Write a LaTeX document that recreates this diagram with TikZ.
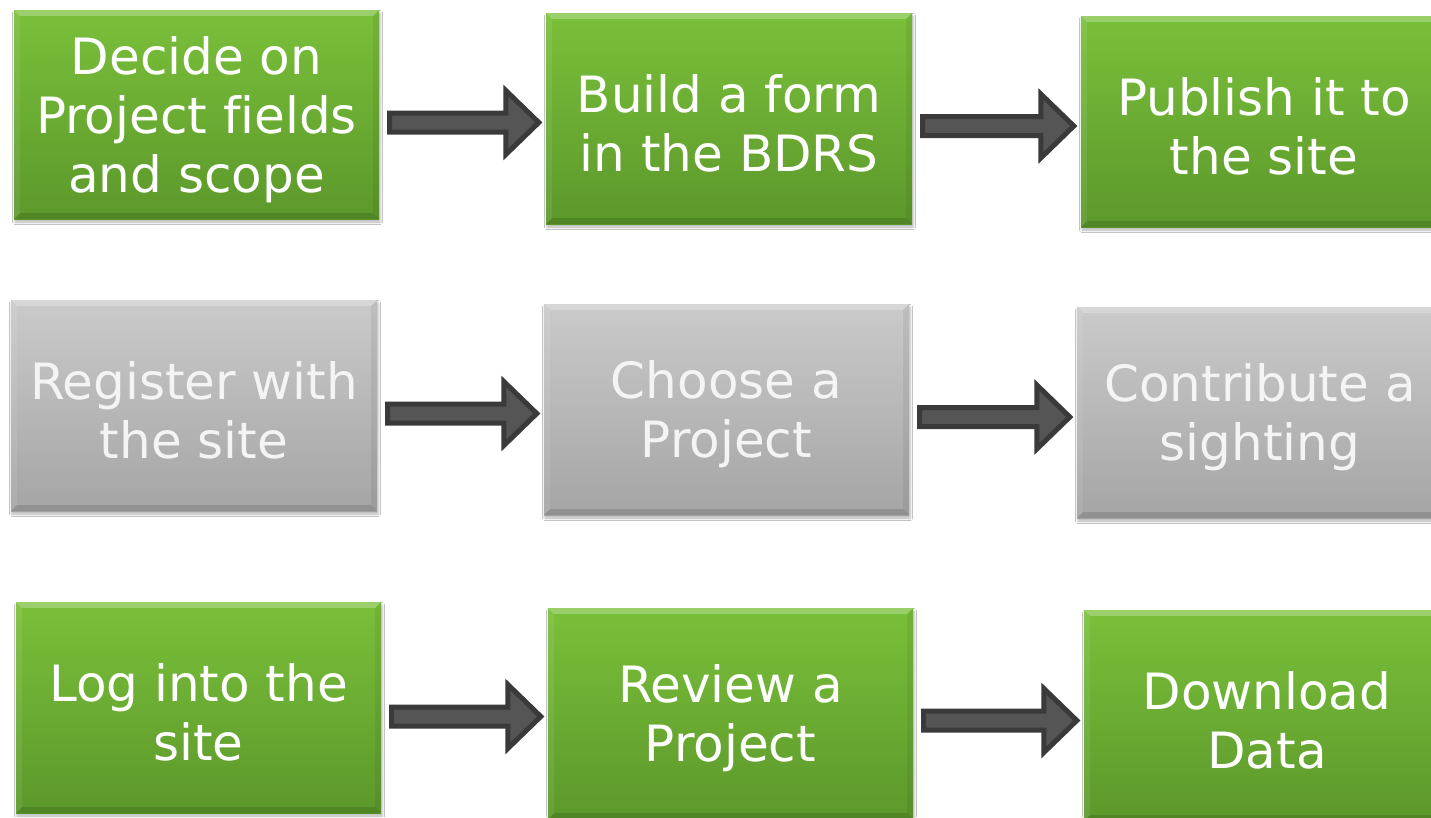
\documentclass[tikz,border=0pt]{standalone}
\usepackage{fontspec}
\setmainfont{DejaVu Sans}[Ligatures=NoCommon]
\usetikzlibrary{calc,shadows.blur}
\definecolor{gtop}{HTML}{7AC03A}
\definecolor{gbot}{HTML}{5C982B}
\definecolor{ytop}{HTML}{CACACA}
\definecolor{ybot}{HTML}{A5A5A5}
\definecolor{ytext}{HTML}{F4F4F4}
\definecolor{arrowedge}{HTML}{3A3A3A}
\definecolor{arrowfill}{HTML}{555555}
\tikzset{
  box/.style={minimum width=365pt, minimum height=210pt, inner sep=0pt,
    shading=axis,
    blur shadow={shadow xshift=1pt, shadow yshift=-3pt, shadow blur radius=2.5pt, shadow opacity=30}},
  boxtext/.style={align=center, text=white, font=\fontsize{50}{59}\selectfont, yshift=-5pt},
  greenbox/.style={box, top color=gtop, bottom color=gbot},
  graybox/.style={box, top color=ytop, bottom color=ybot},
  graytext/.style={boxtext, text=ytext},
  flowarrow/.style={draw=arrowedge, fill=arrowfill, line width=5pt, line join=miter},
  bevellight/.style={fill=white, fill opacity=0.25},
  bevelside/.style={fill=white, fill opacity=0.08},
  beveldark/.style={fill=black, fill opacity=0.12},
  bevelright/.style={fill=black, fill opacity=0.06},
}
\newcommand\bevelon[1]{%
  \fill[bevellight] (#1.north west) -- (#1.north east) -- ([shift={(-6pt,-6pt)}]#1.north east) -- ([shift={(6pt,-6pt)}]#1.north west) -- cycle;
  \fill[bevelside] (#1.north west) -- ([shift={(6pt,-6pt)}]#1.north west) -- ([shift={(6pt,6pt)}]#1.south west) -- (#1.south west) -- cycle;
  \fill[beveldark] (#1.south west) -- (#1.south east) -- ([shift={(-6pt,6pt)}]#1.south east) -- ([shift={(6pt,6pt)}]#1.south west) -- cycle;
  \fill[bevelright] (#1.north east) -- ([shift={(-6pt,-6pt)}]#1.north east) -- ([shift={(-6pt,6pt)}]#1.south east) -- (#1.south east) -- cycle;
}
\newcommand\flowarrowbetween[2]{%
  \draw[flowarrow] let \p1=($(#1.east)+(10.5pt,0)$), \p2=($(#2.west)+(-7pt,0)$),
    \p3=($(#1.east)!0.5!(#2.west)+(0,-6pt)$) in
    (\x1,\y3+9.5pt) -- (\x2-33pt,\y3+9.5pt) -- (\x2-33pt,\y3+32pt) -- (\x2,\y3)
    -- (\x2-33pt,\y3-32pt) -- (\x2-33pt,\y3-9.5pt) -- (\x1,\y3-9.5pt) -- cycle;
}
\begin{document}
\begin{tikzpicture}[x=1pt,y=-1pt]
\fill[white] (0,0) rectangle (1431,817);
\useasboundingbox (0,0) rectangle (1431,817);
% row 1
\node[greenbox, minimum height=209pt, label={[boxtext]center:Decide on\\Project fields\\and scope}] (decide) at (196.5,114.5) {};
\node[greenbox, minimum width=366pt, minimum height=211pt, label={[boxtext]center:Build a form\\in the BDRS}] (build) at (729,118.5) {};
\node[greenbox, minimum width=366pt, minimum height=211pt, label={[boxtext]center:Publish it to\\the site}] (publish) at (1264,121.5) {};
% row 2
\node[graybox, minimum width=366pt, minimum height=211pt, label={[graytext]center:Register with\\the site}] (register) at (194,405.5) {};
\node[graybox, minimum height=211pt, label={[graytext]center:Choose a\\Project}] (choose) at (726.5,409.5) {};
\node[graybox, minimum width=366pt, minimum height=211pt, label={[graytext]center:Contribute a\\sighting}] (contribute) at (1260,412.5) {};
% row 3
\node[greenbox, minimum height=211pt, label={[boxtext]center:Log into the\\site}] (login) at (198.5,707.5) {};
\node[greenbox, minimum height=211pt, label={[boxtext]center:Review a\\Project}] (review) at (730.5,713.5) {};
\node[greenbox, minimum width=366pt, minimum height=211pt, label={[boxtext]center:Download\\Data}] (download) at (1267,715.5) {};
\foreach \n in {decide,build,publish,register,choose,contribute,login,review,download} {\bevelon{\n}}
% arrows
\flowarrowbetween{decide}{build}
\flowarrowbetween{build}{publish}
\flowarrowbetween{register}{choose}
\flowarrowbetween{choose}{contribute}
\flowarrowbetween{login}{review}
\flowarrowbetween{review}{download}
\end{tikzpicture}
\end{document}
